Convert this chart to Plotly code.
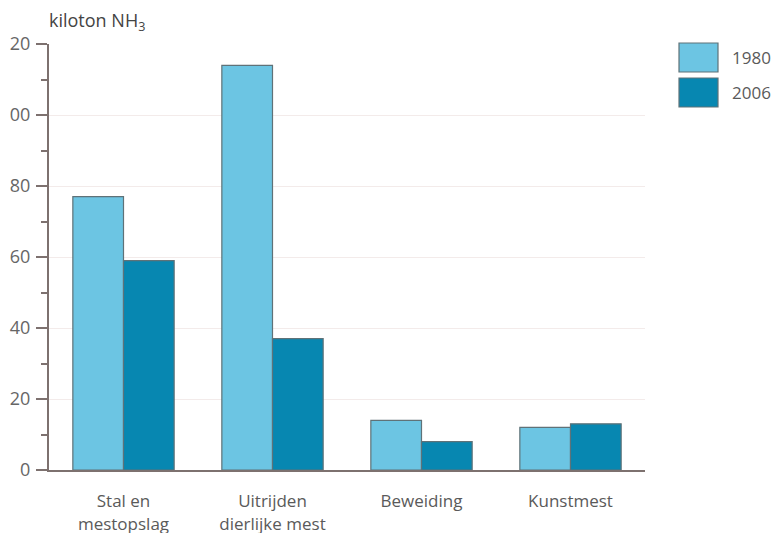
import plotly.graph_objects as go

categories = ["Stal en<br>mestopslag", "Uitrijden<br>dierlijke mest", "Beweiding", "Kunstmest"]
series_names = ["1980", "2006"]
values_1980 = [77, 114, 14, 12]
values_2006 = [59, 37, 8, 13]
series_colors = ["#6cc5e3", "#0787b1"]
y_tickvals = [0, 20, 40, 60, 80, 100, 120]
y_ticktext = ["0", "20", "40", "60", "80", "100", "120"]

# the page body has an 8px margin, so screen pixel = figure pixel + 8
OFF = 8
W, H = 782 - 2 * OFF, 541 - 2 * OFF
L, R, T, B = 49 - OFF, 645 - OFF, 44 - OFF, 470 - OFF

FONT = "Open Sans"
TXT = "#5a5a5a"
AXIS = "#7d716f"

fig = go.Figure()
for name, vals, col in zip(series_names, [values_1980, values_2006], series_colors):
    fig.add_trace(go.Bar(
        x=categories, y=vals, name=name,
        marker=dict(color=col, line=dict(color="#5f7278", width=1.2)),
        showlegend=False, hoverinfo="y",
    ))

def px_x(p):
    return (p - OFF - L) / (R - L)

def px_y(p):
    return (B - (p - OFF)) / (B - T)

shapes = []
annotations = []
legend_boxes = [(43, 72), (78, 107)]
for (y0, y1), name, col in zip(legend_boxes, series_names, series_colors):
    shapes.append(dict(type="rect", xref="paper", yref="paper",
                       x0=px_x(679), x1=px_x(718), y0=px_y(y1), y1=px_y(y0),
                       fillcolor=col, line=dict(color="#5f7278", width=1.2)))
    annotations.append(dict(xref="paper", yref="paper", x=px_x(730), y=px_y((y0 + y1) / 2),
                            text=name, showarrow=False, xanchor="left", yanchor="middle",
                            font=dict(family=FONT, size=17, color=TXT)))

annotations.append(dict(xref="paper", yref="paper", x=px_x(47), y=px_y(21),
                        text="kiloton NH<sub>3</sub>", showarrow=False,
                        xanchor="left", yanchor="middle",
                        font=dict(family=FONT, size=18, color="#444444")))

fig.update_layout(
    width=W, height=H,
    margin=dict(l=L, r=W - R, t=T, b=H - B, pad=0, autoexpand=False),
    paper_bgcolor="white", plot_bgcolor="white",
    barmode="group", bargap=0.32, bargroupgap=0,
    font=dict(family=FONT, size=17, color=TXT),
    shapes=shapes, annotations=annotations,
    xaxis=dict(
        automargin=False,
        showline=True, linecolor=AXIS, linewidth=2,
        ticks="", showgrid=False, tickfont=dict(family=FONT, size=17, color=TXT),
        ticklabelstandoff=15,
    ),
    yaxis=dict(
        automargin=False,
        range=[0, 120], tickvals=y_tickvals, ticktext=y_ticktext,
        showline=True, linecolor=AXIS, linewidth=2,
        ticks="outside", ticklen=11, tickwidth=1.5, tickcolor=AXIS,
        showgrid=True, gridcolor="#f3ebea", gridwidth=1,
        zeroline=False,
        tickfont=dict(family=FONT, size=18, color="#666666"),
        ticklabelstandoff=2,
        minor=dict(dtick=10, tick0=0, ticks="outside", ticklen=6, tickwidth=1.5,
                   tickcolor=AXIS, showgrid=False),
    ),
)

fig.write_html("out.html")
